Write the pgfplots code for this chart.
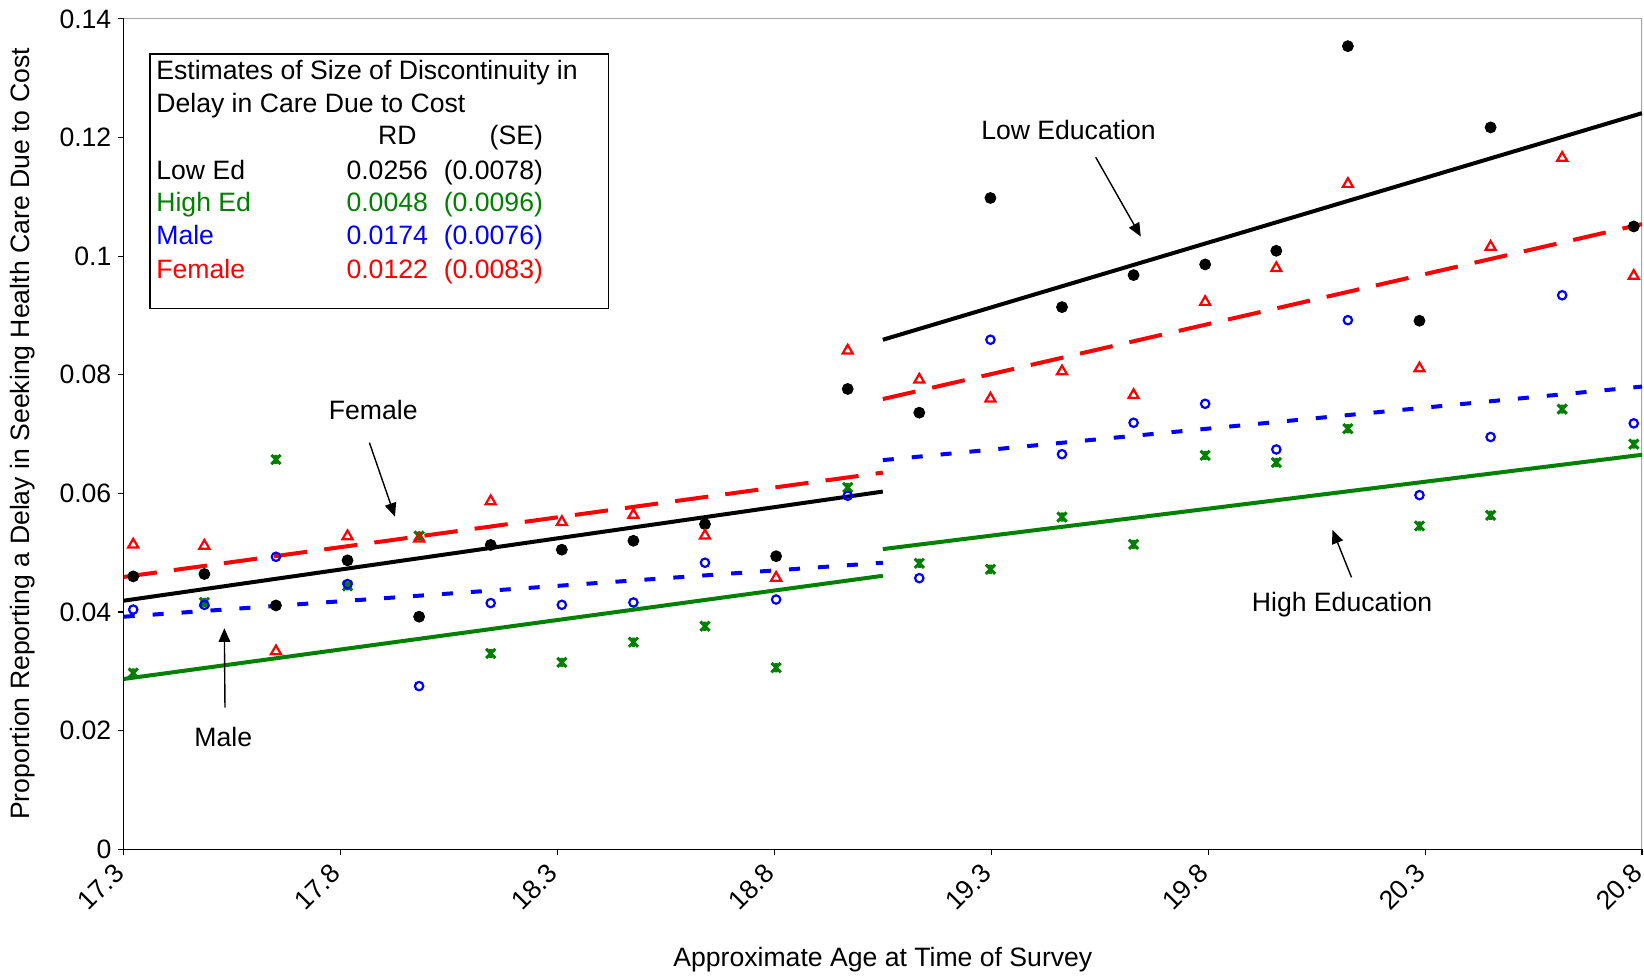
\documentclass[border=0pt]{standalone}
\usepackage{fontspec}
\setmainfont{Liberation Sans}
\usepackage{pgfplots}
\usepackage{pgfplotstable}
\pgfplotsset{compat=1.18}
\usetikzlibrary{arrows.meta}

\definecolor{edgreen}{RGB}{0,128,0}
\definecolor{edblue}{RGB}{0,0,255}
\definecolor{edred}{RGB}{255,0,0}

% X with a vertical stroke (star-like marker)
\pgfdeclareplotmark{xbar}{%
  \pgfpathmoveto{\pgfqpoint{-\pgfplotmarksize}{-\pgfplotmarksize}}%
  \pgfpathlineto{\pgfqpoint{\pgfplotmarksize}{\pgfplotmarksize}}%
  \pgfpathmoveto{\pgfqpoint{-\pgfplotmarksize}{\pgfplotmarksize}}%
  \pgfpathlineto{\pgfqpoint{\pgfplotmarksize}{-\pgfplotmarksize}}%
  \pgfpathmoveto{\pgfqpoint{0pt}{-\pgfplotmarksize}}%
  \pgfpathlineto{\pgfqpoint{0pt}{\pgfplotmarksize}}%
  \pgfusepathqstroke}

% Proportion delaying care due to cost, by age bin
\pgfplotstableread{
age     lowed    highed   male     female
17.322  0.0460   0.0297   0.0404   0.0516
17.486  0.0464   0.0416   0.0412   0.0514
17.651  0.0411   0.0657   0.0493   0.0336
17.816  0.0487   0.0444   0.0447   0.0530
17.981  0.0392   0.0528   0.0275   0.0526
18.146  0.0513   0.0330   0.0415   0.0589
18.310  0.0505   0.0315   0.0412   0.0554
18.475  0.0520   0.0349   0.0416   0.0566
18.640  0.0548   0.0376   0.0483   0.0531
18.804  0.0494   0.0306   0.0421   0.0460
18.969  0.0776   0.0610   0.0596   0.0843
19.134  0.0736   0.0482   0.0457   0.0794
19.298  0.1098   0.0472   0.0859   0.0762
19.463  0.0914   0.0560   0.0666   0.0808
19.628  0.0968   0.0514   0.0719   0.0768
19.793  0.0986   0.0664   0.0751   0.0925
19.957  0.1009   0.0652   0.0674   0.0982
20.122  0.1354   0.0709   0.0892   0.1124
20.287  0.0891   0.0545   0.0597   0.0813
20.451  0.1217   0.0563   0.0695   0.1018
20.616  nan      0.0742   0.0934   0.1168
20.781  0.1050   0.0683   0.0718   0.0969
}\agedata

\begin{document}
\begin{tikzpicture}[font=\fontsize{13.3pt}{16pt}\selectfont]
\begin{axis}[
  scale only axis,
  width=759.15pt, height=415.15pt,
  xmin=17.3, xmax=20.8, ymin=0, ymax=0.14,
  axis x line*=bottom, axis y line*=left,
  axis line style={black, line width=0.6pt},
  tick style={black, line width=0.6pt},
  tick align=outside, major tick length=3pt,
  xtick={17.3,17.8,18.3,18.8,19.3,19.8,20.3,20.8},
  xticklabels={17.3,17.8,18.3,18.8,19.3,19.8,20.3,20.8},
  ytick={0,0.02,0.04,0.06,0.08,0.1,0.12,0.14},
  yticklabels={0,0.02,0.04,0.06,0.08,0.1,0.12,0.14},
  /pgf/number format/assume math mode=true,
  xticklabel style={xshift=-1.5pt, yshift=-6pt, rotate=45, anchor=east, inner sep=1pt},
  yticklabel style={anchor=east, inner sep=3pt},
  every axis y label/.style={at={(axis description cs:-0.0663,0.5)}, rotate=90, anchor=center},
  every axis x label/.style={at={(axis description cs:0.5,-0.1325)}, anchor=center},
  ylabel={Proportion Reporting a Delay in Seeking Health Care Due to Cost},
  xlabel={Approximate Age at Time of Survey},
  unbounded coords=discard,
]
\draw[gray!70, line width=0.6pt] (rel axis cs:0,1) -- (rel axis cs:1,1) -- (rel axis cs:1,0);

% fitted segments either side of the discontinuity
\addplot[edgreen, line width=2pt] coordinates {(17.3,0.0287) (19.05,0.0461)};
\addplot[edgreen, line width=2pt] coordinates {(19.05,0.0506) (20.8,0.0665)};
\addplot[edblue, line width=2pt, dash pattern=on 5.5pt off 9pt] coordinates {(17.3,0.0392) (19.05,0.0483)};
\addplot[edblue, line width=2pt, dash pattern=on 5.5pt off 9pt] coordinates {(19.05,0.0656) (20.8,0.0780)};
\addplot[edred, line width=2pt, dash pattern=on 16.7pt off 8.6pt] coordinates {(17.3,0.0459) (19.05,0.0635)};
\addplot[edred, line width=2pt, dash pattern=on 16.7pt off 8.6pt] coordinates {(19.05,0.0759) (20.8,0.1054)};
\addplot[black, line width=2pt] coordinates {(17.3,0.0419) (19.05,0.0603)};
\addplot[black, line width=2pt] coordinates {(19.05,0.0859) (20.8,0.1241)};

% binned proportions
\addplot[only marks, mark=*, mark size=2.75pt, black] table[x=age, y=lowed] {\agedata};
\addplot[only marks, mark=xbar, mark size=2.3pt, edgreen, line width=1.5pt] table[x=age, y=highed] {\agedata};
\addplot[only marks, mark=o, mark size=2.1pt, edblue, line width=1.1pt] table[x=age, y=male] {\agedata};
\addplot[only marks, mark=triangle, mark size=2.9pt, edred, line width=1.1pt,
  every mark/.append style={yshift=-0.7pt}] table[x=age, y=female] {\agedata};

% estimates box
\draw[black, line width=0.8pt, fill=white] (axis cs:17.3604,0.13408) rectangle (axis cs:18.4172,0.09120);
\begin{scope}[every node/.style={inner sep=0pt}]
\node[anchor=base west] at (axis cs:17.3744,0.12980) {Estimates of Size of Discontinuity in};
\node[anchor=base west] at (axis cs:17.3744,0.12418) {Delay in Care Due to Cost};
\node[anchor=base] at (axis cs:17.9309,0.11886) {RD};
\node[anchor=base east] at (axis cs:18.2673,0.11886) {(SE)};
\node[anchor=base west] at (axis cs:17.3744,0.11295) {Low Ed};
\node[anchor=base east] at (axis cs:18.0022,0.11295) {0.0256};
\node[anchor=base east] at (axis cs:18.2673,0.11295) {(0.0078)};
\node[anchor=base west, text=edgreen] at (axis cs:17.3744,0.10744) {High Ed};
\node[anchor=base east, text=edgreen] at (axis cs:18.0022,0.10744) {0.0048};
\node[anchor=base east, text=edgreen] at (axis cs:18.2673,0.10744) {(0.0096)};
\node[anchor=base west, text=edblue] at (axis cs:17.3744,0.10200) {Male};
\node[anchor=base east, text=edblue] at (axis cs:18.0022,0.10200) {0.0174};
\node[anchor=base east, text=edblue] at (axis cs:18.2673,0.10200) {(0.0076)};
\node[anchor=base west, text=edred] at (axis cs:17.3744,0.09625) {Female};
\node[anchor=base east, text=edred] at (axis cs:18.0022,0.09625) {0.0122};
\node[anchor=base east, text=edred] at (axis cs:18.2673,0.09625) {(0.0083)};
\end{scope}

% series call-outs
\node at (axis cs:19.478,0.12126) {Low Education};
\node at (axis cs:17.8753,0.07407) {Female};
\node at (axis cs:17.5296,0.01891) {Male};
\node at (axis cs:20.1087,0.04119) {High Education};
\begin{scope}[-{Triangle[length=6.8pt,width=5.8pt]}, line width=0.7pt, black]
\draw (axis cs:19.5407,0.11667) -- (axis cs:19.6446,0.10329);
\draw (axis cs:17.8664,0.06855) -- (axis cs:17.9253,0.05607);
\draw (axis cs:17.5335,0.02386) -- (axis cs:17.5320,0.03725);
\draw (axis cs:20.1303,0.04584) -- (axis cs:20.0865,0.05383);
\end{scope}
\end{axis}
\pgfresetboundingbox
\useasboundingbox (-61.85pt,-63.9pt) rectangle (760.15pt,424.6pt);
\end{tikzpicture}
\end{document}
